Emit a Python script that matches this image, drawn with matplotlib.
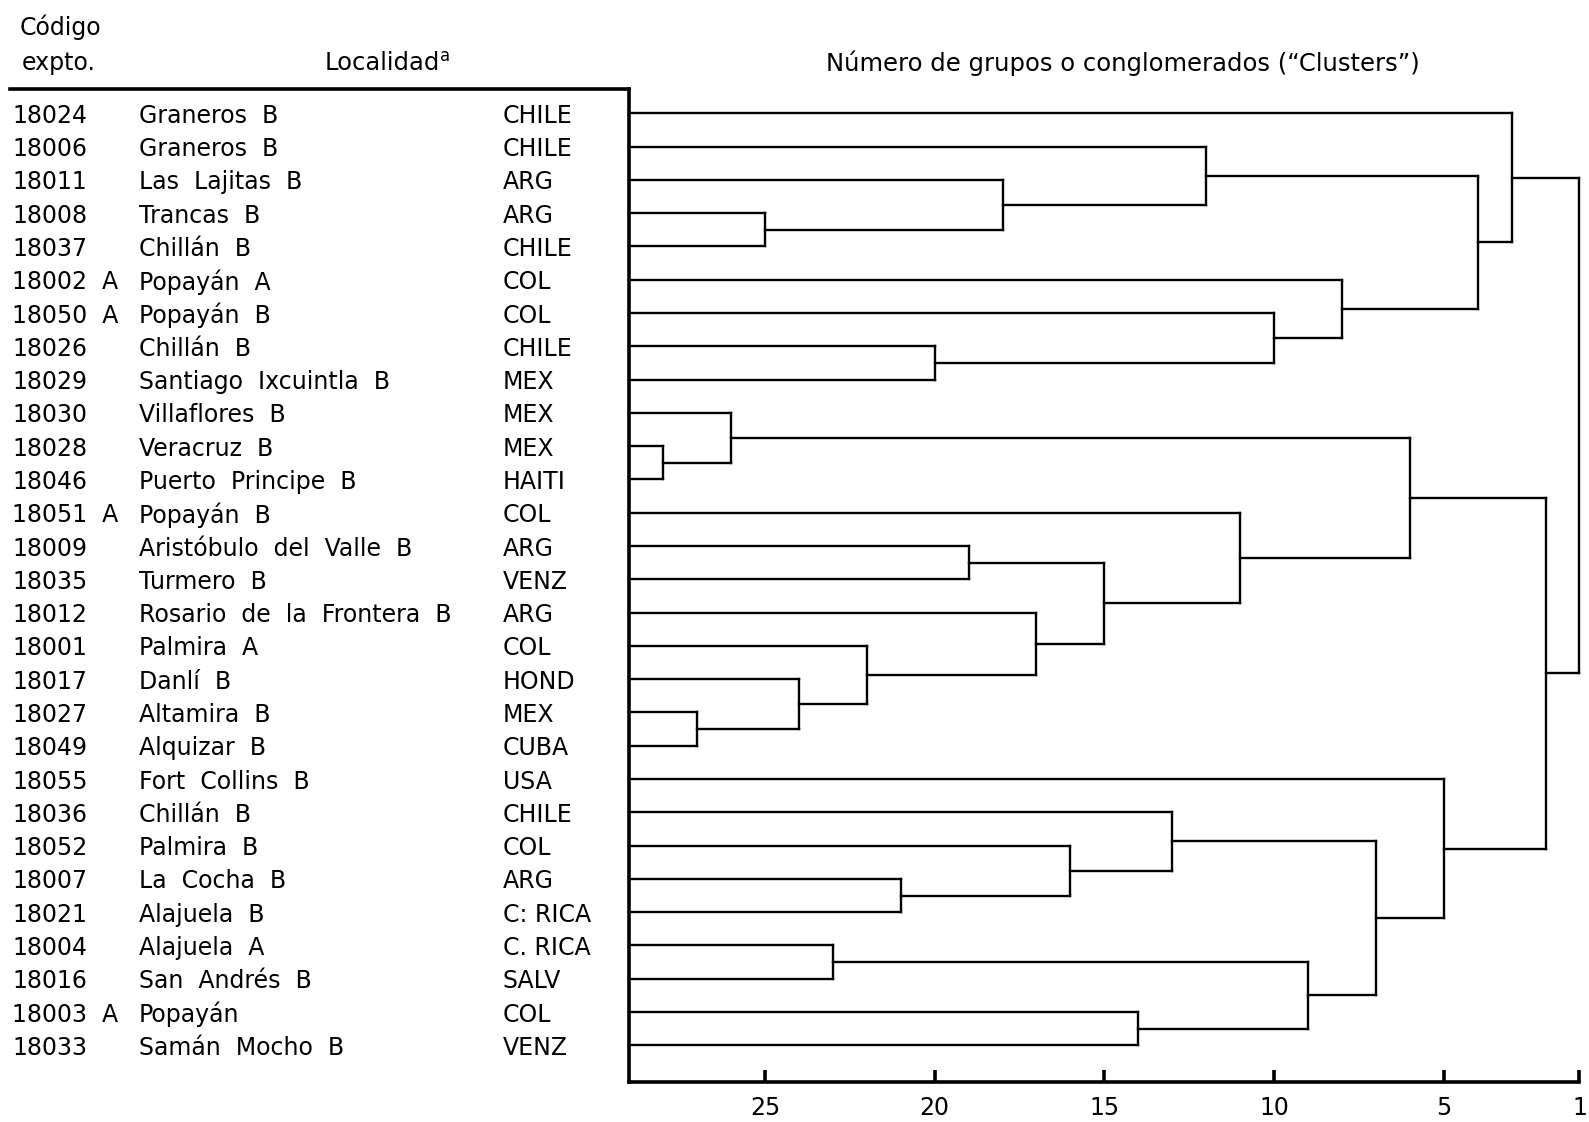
import matplotlib
matplotlib.use("Agg")
import matplotlib.pyplot as plt
import matplotlib.transforms as mtransforms

codes = ["18024", "18006", "18011", "18008", "18037", "18002  A", "18050  A", "18026",
         "18029", "18030", "18028", "18046", "18051  A", "18009", "18035", "18012",
         "18001", "18017", "18027", "18049", "18055", "18036", "18052", "18007",
         "18021", "18004", "18016", "18003  A", "18033"]
places = ["Graneros  B", "Graneros  B", "Las  Lajitas  B", "Trancas  B", "Chillán  B",
          "Popayán  A", "Popayán  B", "Chillán  B", "Santiago  Ixcuintla  B",
          "Villaflores  B", "Veracruz  B", "Puerto  Principe  B", "Popayán  B",
          "Aristóbulo  del  Valle  B", "Turmero  B", "Rosario  de  la  Frontera  B",
          "Palmira  A", "Danlí  B", "Altamira  B", "Alquizar  B", "Fort  Collins  B",
          "Chillán  B", "Palmira  B", "La  Cocha  B", "Alajuela  B", "Alajuela  A",
          "San  Andrés  B", "Popayán", "Samán  Mocho  B"]
countries = ["CHILE", "CHILE", "ARG", "ARG", "CHILE", "COL", "COL", "CHILE", "MEX",
             "MEX", "MEX", "HAITI", "COL", "ARG", "VENZ", "ARG", "COL", "HOND", "MEX",
             "CUBA", "USA", "CHILE", "COL", "ARG", "C: RICA", "C. RICA", "SALV", "COL",
             "VENZ"]

# merges: (cluster a, cluster b, number of clusters)
# leaves are 0..28, each merge makes a new cluster numbered 29, 30, ...
merges = [(10, 11, 28), (18, 19, 27), (9, 29, 26), (3, 4, 25), (17, 30, 24),
          (25, 26, 23), (16, 33, 22), (23, 24, 21), (7, 8, 20), (13, 14, 19),
          (2, 32, 18), (15, 35, 17), (22, 36, 16), (38, 40, 15), (27, 28, 14),
          (21, 41, 13), (1, 39, 12), (12, 42, 11), (6, 37, 10), (34, 43, 9),
          (5, 47, 8), (44, 48, 7), (31, 46, 6), (20, 50, 5), (45, 49, 4),
          (0, 53, 3), (51, 52, 2), (54, 55, 1)]
ticks = [25, 20, 15, 10, 5, 1]

plt.rcParams['font.family'] = ['DejaVu Sans']

fig = plt.figure(figsize=(15.89, 11.22), dpi=100)
ax = fig.add_axes([0.396, 0.0357, 0.598, 0.885])

n = len(codes)
ypos = {i: i for i in range(n)}
xpos = {i: n for i in range(n)}
lw = 1.7
for k, (a, b, lev) in enumerate(merges):
    for c in (a, b):
        ax.plot([xpos[c], lev], [ypos[c], ypos[c]], color='black', lw=lw,
                solid_capstyle='projecting', clip_on=False)
    ax.plot([lev, lev], [ypos[a], ypos[b]], color='black', lw=lw,
            solid_capstyle='projecting', clip_on=False)
    ypos[n + k] = (ypos[a] + ypos[b]) / 2
    xpos[n + k] = lev

ax.set_xlim(n, 1)
ax.set_ylim(29.1, -0.73)
ax.set_xticks(ticks)
ax.set_yticks([])
for s in ['top', 'right']:
    ax.spines[s].set_visible(False)
for s in ['left', 'bottom']:
    ax.spines[s].set_linewidth(2.6)
fs = 17
ax.tick_params(axis='x', direction='in', length=9, width=2.6, labelsize=fs, pad=10)

# underline of the table header
ax.plot([-0.652, 0], [1, 1], transform=ax.transAxes, color='black', lw=2.6,
        clip_on=False, solid_capstyle='projecting')

# table text
tr = mtransforms.blended_transform_factory(fig.transFigure, ax.transData)
for i in range(n):
    ax.text(0.0076, i, codes[i], transform=tr, fontsize=fs, va='center_baseline', ha='left')
    ax.text(0.0875, i, places[i], transform=tr, fontsize=fs, va='center_baseline', ha='left')
    ax.text(0.3165, i, countries[i], transform=tr, fontsize=fs, va='center_baseline', ha='left')

fig.text(0.0126, 0.9775, "Código", fontsize=fs, va='center_baseline', ha='left')
fig.text(0.0135, 0.9458, "expto.", fontsize=fs, va='center_baseline', ha='left')
t = fig.text(0.204, 0.9458, "Localidad", fontsize=17.5, va='center_baseline', ha='left')
fig.text(0.7067, 0.9458, "Número de grupos o conglomerados (“Clusters”)",
         fontsize=17.5, va='center_baseline', ha='center')
ax.annotate("a", xy=(1, 0.45), xycoords=t, fontsize=12, va='bottom', ha='left')

fig.savefig("out.png", dpi=100)
